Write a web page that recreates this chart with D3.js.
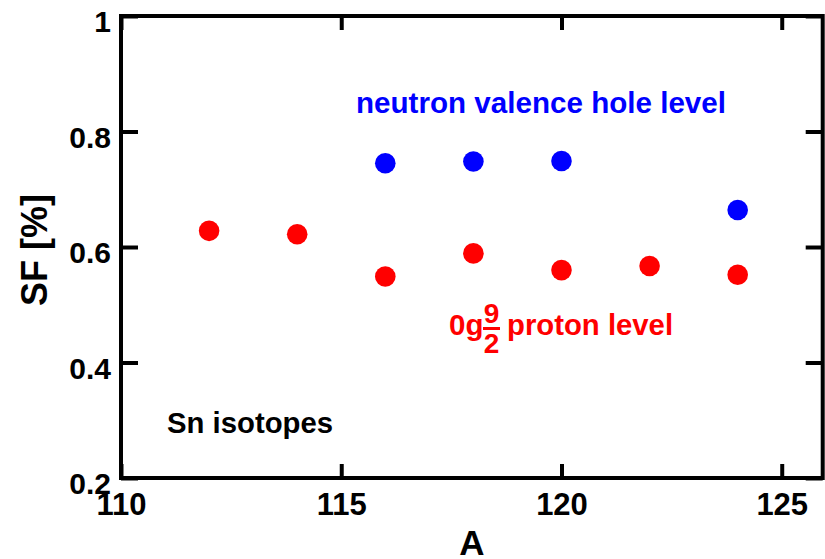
<!DOCTYPE html>
<html>
<head>
<meta charset="utf-8">
<script src="https://cdn.jsdelivr.net/npm/d3@7/dist/d3.min.js"></script>
<style>
  html, body { margin: 0; padding: 0; background: #fff; }
  svg { display: block; font-family: "Liberation Sans", Arial, Helvetica, sans-serif; font-weight: bold; }
</style>
</head>
<body>
<svg id="chart" width="825" height="559"></svg>
<script>
// ---- data ----
const protonA = [112, 114, 116, 118, 120, 122, 124];
const protonSF = [0.628, 0.622, 0.549, 0.589, 0.560, 0.567, 0.552];
const neutronA = [116, 118, 120, 124];
const neutronSF = [0.745, 0.748, 0.749, 0.664];
const xTickValues = [110, 115, 120, 125];
const yTickValues = [0.2, 0.4, 0.6, 0.8, 1];
const xLabel = "A";
const yLabel = "SF [%]";

// ---- layout ----
const W = 825, H = 559;
const L = 121, R = 822.7, T = 16, B = 478;
const svg = d3.select("#chart");

const x = d3.scaleLinear().domain([110, 125.93]).range([L, R]);
const y = d3.scaleLinear().domain([0.2, 1]).range([B, T]);

const lw = 4;
const fmtY = d => (d === 1 ? "1" : d3.format(".1f")(d));

// bottom axis (ticks inward)
const gB = svg.append("g").attr("transform", `translate(0,${B})`)
  .call(d3.axisBottom(x).tickValues(xTickValues).tickSizeInner(-14).tickSizeOuter(0).tickPadding(0).tickFormat(d3.format("d")));
gB.select(".domain").remove();
gB.selectAll(".tick line").attr("stroke", "#000").attr("stroke-width", lw);
gB.selectAll(".tick text").attr("y", 37).attr("dy", 0).attr("font-size", 31).attr("font-weight", "bold")
  .attr("font-family", "Liberation Sans, Arial, sans-serif").attr("fill", "#000");

// top axis (ticks inward, no labels)
const gT = svg.append("g").attr("transform", `translate(0,${T})`)
  .call(d3.axisTop(x).tickValues(xTickValues).tickSizeInner(-14).tickSizeOuter(0).tickFormat(""));
gT.select(".domain").remove();
gT.selectAll(".tick line").attr("stroke", "#000").attr("stroke-width", lw);

// left axis
const gL = svg.append("g").attr("transform", `translate(${L},0)`)
  .call(d3.axisLeft(y).tickValues(yTickValues).tickSizeInner(-17).tickSizeOuter(0).tickPadding(0).tickFormat(fmtY));
gL.select(".domain").remove();
gL.selectAll(".tick line").attr("stroke", "#000").attr("stroke-width", lw);
gL.selectAll(".tick text").attr("x", -10).attr("dy", 15.5).attr("font-size", 30).attr("font-weight", "bold")
  .attr("font-family", "Liberation Sans, Arial, sans-serif").attr("fill", "#000");

// right axis
const gR = svg.append("g").attr("transform", `translate(${R},0)`)
  .call(d3.axisRight(y).tickValues(yTickValues).tickSizeInner(-17).tickSizeOuter(0).tickFormat(""));
gR.select(".domain").remove();
gR.selectAll(".tick line").attr("stroke", "#000").attr("stroke-width", lw);

// frame
svg.append("rect").attr("x", L).attr("y", T).attr("width", R - L).attr("height", B - T)
  .attr("fill", "none").attr("stroke", "#000").attr("stroke-width", lw);

// points
const r = 10.3;
svg.append("g").selectAll("circle").data(protonA.map((a, i) => [a, protonSF[i]])).join("circle")
  .attr("cx", d => x(d[0])).attr("cy", d => y(d[1])).attr("r", r).attr("fill", "#ff0000");
svg.append("g").selectAll("circle").data(neutronA.map((a, i) => [a, neutronSF[i]])).join("circle")
  .attr("cx", d => x(d[0])).attr("cy", d => y(d[1])).attr("r", r).attr("fill", "#0000ff");

// axis labels
svg.append("text").attr("x", (L + R) / 2).attr("y", 555).attr("text-anchor", "middle")
  .attr("font-size", 35).attr("fill", "#000").text(xLabel);
svg.append("text").attr("transform", `translate(47,${(T + B) / 2 + 3}) rotate(-90)`).attr("text-anchor", "middle")
  .attr("font-size", 36).attr("fill", "#000").text(yLabel);

// annotations
svg.append("text").attr("x", 356).attr("y", 113).attr("font-size", 29.6).attr("fill", "#0000ff")
  .attr("textLength", 370).attr("lengthAdjust", "spacingAndGlyphs").text("neutron valence hole level");
svg.append("text").attr("x", 167).attr("y", 433).attr("font-size", 29.3).attr("fill", "#000")
  .text("Sn isotopes");

const red = svg.append("g").attr("fill", "#ff0000");
red.append("text").attr("x", 449).attr("y", 335).attr("font-size", 29.5).text("0g");
red.append("text").attr("x", 491.5).attr("y", 323).attr("font-size", 28).attr("text-anchor", "middle").text("9");
red.append("rect").attr("x", 483).attr("y", 327).attr("width", 17).attr("height", 3);
red.append("text").attr("x", 491.5).attr("y", 353).attr("font-size", 28).attr("text-anchor", "middle").text("2");
red.append("text").attr("x", 507).attr("y", 335).attr("font-size", 29.3).text("proton level");
</script>
</body>
</html>
